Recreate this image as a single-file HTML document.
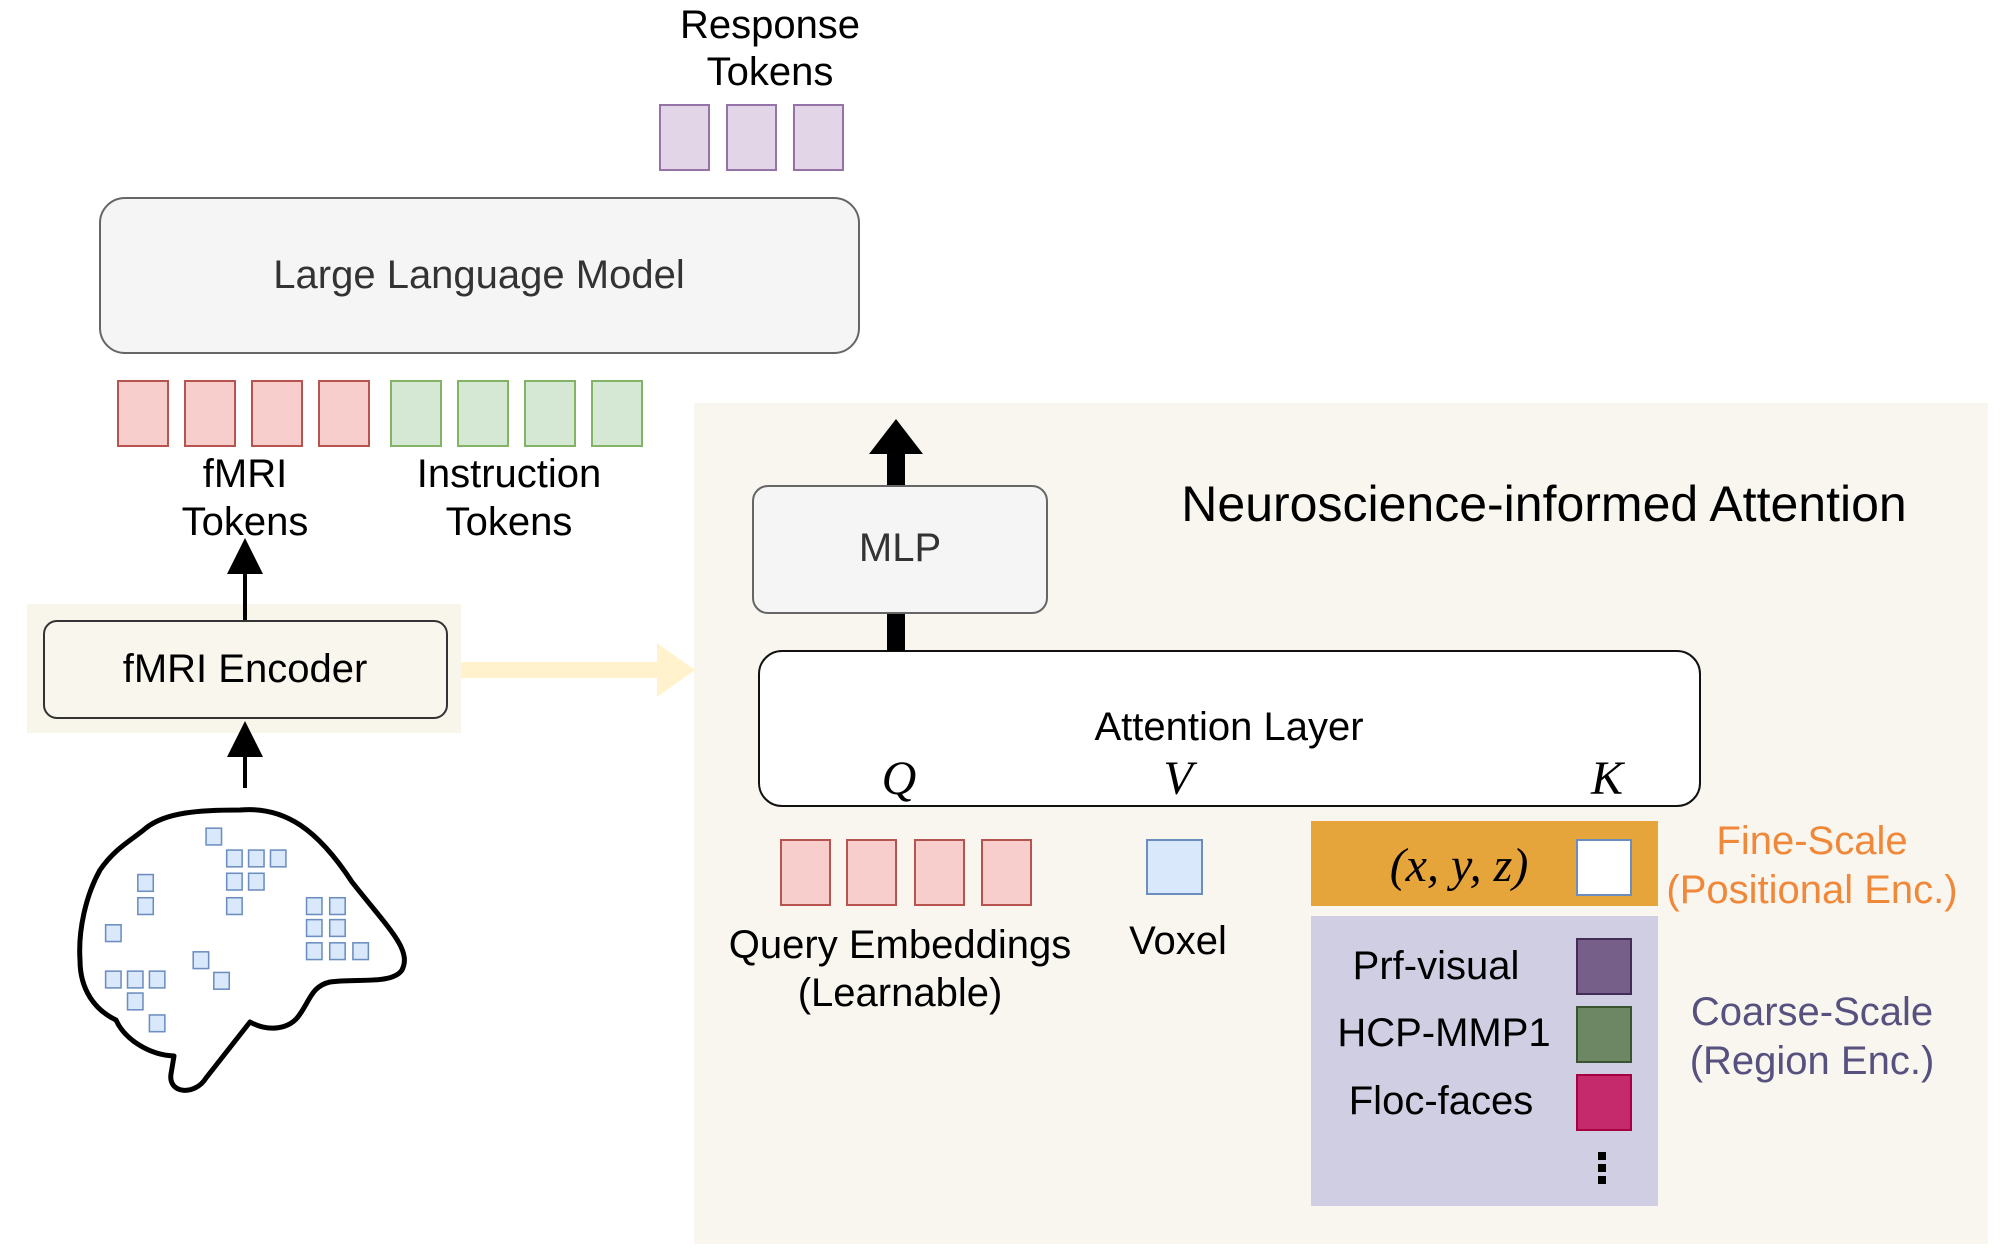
<!DOCTYPE html>
<html><head><meta charset="utf-8"><style>
html,body{margin:0;padding:0;background:#fff;}
body{width:2010px;height:1250px;position:relative;overflow:hidden;font-family:"Liberation Sans",sans-serif;color:#000;}
.a{position:absolute;box-sizing:border-box;}
.t{position:absolute;white-space:nowrap;transform:translate(-50%,-50%);line-height:1;}
.red{background:#f8cecc;border:2px solid #b85450;}
.grn{background:#d5e8d4;border:2px solid #82b366;}
.pur{background:#e1d5e7;border:2px solid #9673a6;}
.m{font-family:"Liberation Serif",serif;font-style:italic;}
#R{position:absolute;left:0;top:0;width:2010px;height:1250px;transform:translate(-4px,-3px);}
</style></head><body>
<div class="a" style="left:27px;top:604px;width:434px;height:129px;background:#f8f5ea;"></div>
<div id="R">
<div class="a" style="left:698px;top:406px;width:1294px;height:841px;background:#f8f6ef;"></div>

<div class="a" style="left:756px;top:488px;width:296px;height:129px;background:#f5f5f5;border:2px solid #666;border-radius:16px;"></div>
<div class="t" style="left:904px;top:551px;font-size:40px;color:#333;">MLP</div>

<div class="t" style="left:1548px;top:507px;font-size:50px;">Neuroscience-informed Attention</div>

<div class="a" style="left:762px;top:653px;width:943px;height:157px;background:#fff;border:2.5px solid #111;border-radius:24px;"></div>
<div class="t" style="left:1233px;top:730px;font-size:40px;">Attention Layer</div>
<div class="t m" style="left:903px;top:782px;font-size:48px;">Q</div>
<div class="t m" style="left:1182px;top:782px;font-size:48px;">V</div>
<div class="t m" style="left:1611px;top:782px;font-size:48px;">K</div>

<div class="a red" style="left:784px;top:842px;width:51px;height:67px;"></div>
<div class="a red" style="left:850px;top:842px;width:51px;height:67px;"></div>
<div class="a red" style="left:918px;top:842px;width:51px;height:67px;"></div>
<div class="a red" style="left:985px;top:842px;width:51px;height:67px;"></div>
<div class="t" style="left:904px;top:948px;font-size:40px;">Query Embeddings</div>
<div class="t" style="left:904px;top:996px;font-size:40px;">(Learnable)</div>
<div class="a" style="left:1150px;top:842px;width:57px;height:56px;background:#dae8fc;border:2px solid #6c8ebf;"></div>
<div class="t" style="left:1182px;top:944px;font-size:40px;">Voxel</div>

<div class="a" style="left:1315px;top:824px;width:347px;height:85px;background:#e6a53a;"></div>
<div class="t m" style="left:1463px;top:869px;font-size:48px;">(x, y, z)</div>
<div class="a" style="left:1580px;top:842px;width:56px;height:57px;background:#fff;border:2px solid #6c8ebf;"></div>
<div class="a" style="left:1315px;top:919px;width:347px;height:290px;background:#d0cee2;"></div>
<div class="t" style="left:1440px;top:969px;font-size:40px;">Prf-visual</div>
<div class="t" style="left:1448px;top:1036px;font-size:40px;">HCP-MMP1</div>
<div class="t" style="left:1445px;top:1104px;font-size:40px;">Floc-faces</div>
<div class="a" style="left:1580px;top:941px;width:56px;height:57px;background:#76608a;border:2px solid #432d57;"></div>
<div class="a" style="left:1580px;top:1009px;width:56px;height:57px;background:#6d8764;border:2px solid #3a5431;"></div>
<div class="a" style="left:1580px;top:1077px;width:56px;height:57px;background:#c52a6c;border:2px solid #a50040;"></div>
<div class="a" style="left:1602px;top:1155px;width:8px;height:8px;background:#000;"></div>
<div class="a" style="left:1602px;top:1167px;width:8px;height:8px;background:#000;"></div>
<div class="a" style="left:1602px;top:1179px;width:8px;height:8px;background:#000;"></div>

<div class="t" style="left:1816px;top:844px;font-size:40px;color:#f0883a;">Fine-Scale</div>
<div class="t" style="left:1816px;top:893px;font-size:40px;color:#f0883a;">(Positional Enc.)</div>
<div class="t" style="left:1816px;top:1015px;font-size:40px;color:#56517e;">Coarse-Scale</div>
<div class="t" style="left:1816px;top:1064px;font-size:40px;color:#56517e;">(Region Enc.)</div>
<svg class="a" style="left:0;top:0" width="2010" height="1250" viewBox="0 0 2010 1250">
  <rect x="891" y="455" width="18" height="33" fill="#000"/>
  <polygon points="873,457 927,457 900,422" fill="#000"/>
  <rect x="891" y="617" width="18" height="37" fill="#000"/>
</svg>
</div>

<div class="t" style="left:770px;top:25px;font-size:40px;">Response</div>
<div class="t" style="left:770px;top:72px;font-size:40px;">Tokens</div>
<div class="a pur" style="left:659px;top:104px;width:51px;height:67px;"></div>
<div class="a pur" style="left:726px;top:104px;width:51px;height:67px;"></div>
<div class="a pur" style="left:793px;top:104px;width:51px;height:67px;"></div>

<div class="a" style="left:99px;top:197px;width:761px;height:157px;background:#f5f5f5;border:2px solid #666;border-radius:26px;"></div>
<div class="t" style="left:479px;top:275px;font-size:40px;color:#333;">Large Language Model</div>

<div class="a red" style="left:117px;top:380px;width:52px;height:67px;"></div>
<div class="a red" style="left:184px;top:380px;width:52px;height:67px;"></div>
<div class="a red" style="left:251px;top:380px;width:52px;height:67px;"></div>
<div class="a red" style="left:318px;top:380px;width:52px;height:67px;"></div>
<div class="a grn" style="left:390px;top:380px;width:52px;height:67px;"></div>
<div class="a grn" style="left:457px;top:380px;width:52px;height:67px;"></div>
<div class="a grn" style="left:524px;top:380px;width:52px;height:67px;"></div>
<div class="a grn" style="left:591px;top:380px;width:52px;height:67px;"></div>

<div class="t" style="left:245px;top:474px;font-size:40px;">fMRI</div>
<div class="t" style="left:245px;top:522px;font-size:40px;">Tokens</div>
<div class="t" style="left:509px;top:474px;font-size:40px;">Instruction</div>
<div class="t" style="left:509px;top:522px;font-size:40px;">Tokens</div>

<div class="a" style="left:43px;top:620px;width:405px;height:99px;background:#f9f7ed;border:2px solid #333;border-radius:14px;"></div>
<div class="t" style="left:245px;top:669px;font-size:40px;">fMRI Encoder</div>

<svg class="a" style="left:0;top:0" width="2010" height="1250" viewBox="0 0 2010 1250">
  <rect x="461" y="662" width="197" height="16" fill="#fff2cc"/>
  <polygon points="657,643 695,670 657,697" fill="#fff2cc"/>
  <line x1="245" y1="620" x2="245" y2="572" stroke="#000" stroke-width="4"/>
  <polygon points="227,574 263,574 245,538" fill="#000"/>
  <line x1="245" y1="788" x2="245" y2="754" stroke="#000" stroke-width="4"/>
  <polygon points="227,757 263,757 245,721" fill="#000"/>
  <path d="M240,810 C285,806 318,830 352,882 C390,930 412,950 402,970 C392,985 355,978 330,982 C312,986 310,1000 300,1014 C290,1030 268,1032 250,1022 L206,1078 C195,1096 168,1094 171,1074 L174,1056 C150,1055 125,1040 116,1020 C95,1010 80,990 80,960 C78,930 86,895 100,870 C115,848 132,840 146,828 C166,812 200,810 240,810 Z" fill="none" stroke="#000" stroke-width="5" stroke-linejoin="round"/>
  <g transform="scale(1.288)" fill="#dae8fc" stroke="#6c8ebf" stroke-width="1.2">
    <rect x="160" y="643" width="12" height="13"/>
    <rect x="176" y="660" width="12" height="13"/><rect x="193" y="660" width="12" height="13"/><rect x="210" y="660" width="12" height="13"/>
    <rect x="176" y="678" width="12" height="13"/><rect x="193" y="678" width="12" height="13"/>
    <rect x="176" y="697" width="12" height="13"/>
    <rect x="107" y="679" width="12" height="13"/><rect x="107" y="697" width="12" height="13"/>
    <rect x="82" y="718" width="12" height="13"/>
    <rect x="238" y="697" width="12" height="13"/><rect x="256" y="697" width="12" height="13"/>
    <rect x="238" y="714" width="12" height="13"/><rect x="256" y="714" width="12" height="13"/>
    <rect x="238" y="732" width="12" height="13"/><rect x="256" y="732" width="12" height="13"/><rect x="274" y="732" width="12" height="13"/>
    <rect x="150" y="739" width="12" height="13"/><rect x="166" y="755" width="12" height="13"/>
    <rect x="82" y="754" width="12" height="13"/><rect x="99" y="754" width="12" height="13"/><rect x="116" y="754" width="12" height="13"/>
    <rect x="99" y="771" width="12" height="13"/><rect x="116" y="788" width="12" height="13"/>
  </g>
</svg>
</body></html>
